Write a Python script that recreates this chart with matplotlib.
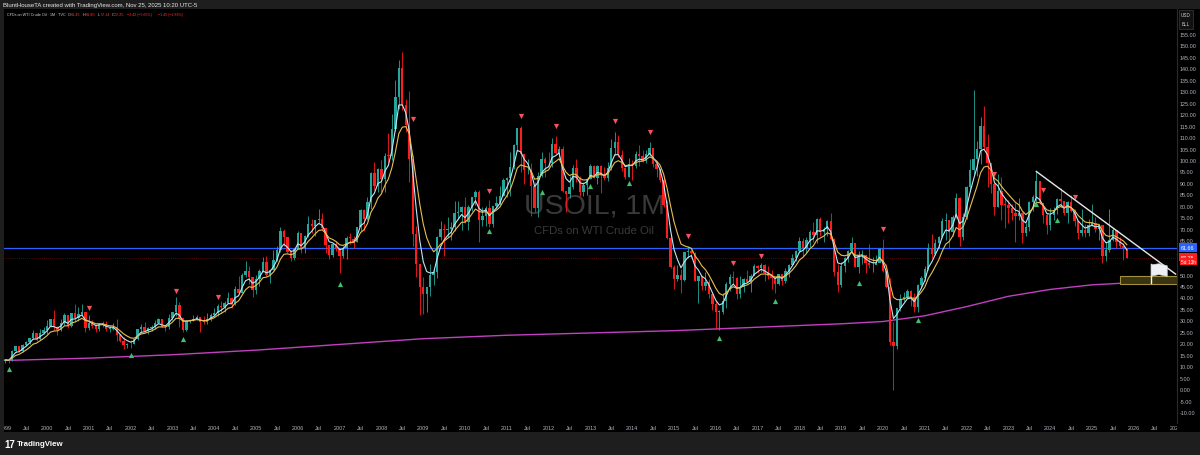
import numpy as np
import pandas as pd
import matplotlib
matplotlib.use('Agg')
import matplotlib.pyplot as plt
from matplotlib.patches import Rectangle, Polygon

plt.rcParams['font.family'] = ['Liberation Sans', 'DejaVu Sans']

# monthly WTI CFD candles, Jan 1999 .. Nov 2025 (one row per year)
first_open = 12.05
closes = [
    12.75, 12.27, 16.76, 18.66, 16.84, 19.29, 20.53, 22.10, 24.51, 21.75, 24.59, 25.60,  # 1999
    27.64, 30.43, 26.90, 25.74, 29.01, 32.50, 27.43, 33.12, 30.84, 32.70, 33.82, 26.80,  # 2000
    28.66, 27.39, 26.29, 28.46, 28.37, 26.25, 26.35, 27.20, 23.43, 21.18, 19.44, 19.84,  # 2001
    19.48, 21.74, 26.31, 27.29, 25.31, 26.86, 27.02, 28.98, 30.45, 27.22, 26.89, 31.20,  # 2002
    33.51, 36.60, 31.04, 25.80, 29.56, 30.19, 30.54, 31.57, 29.20, 29.11, 30.41, 32.52,  # 2003
    33.05, 36.16, 35.76, 37.38, 39.88, 37.05, 43.80, 42.12, 49.64, 51.76, 49.13, 43.45,  # 2004
    48.20, 51.75, 55.40, 49.72, 51.97, 56.50, 60.57, 68.94, 66.24, 59.76, 57.32, 61.04,  # 2005
    67.92, 61.41, 66.63, 71.88, 71.29, 73.93, 74.40, 70.26, 62.91, 58.73, 63.13, 61.05,  # 2006
    58.14, 61.79, 65.87, 65.71, 64.01, 70.68, 78.21, 74.04, 81.66, 94.53, 88.71, 95.98,  # 2007
    91.75, 101.84, 101.58, 113.46, 127.35, 140.00, 124.08, 115.46, 100.64, 67.81, 54.43, 44.60,  # 2008
    41.68, 44.76, 49.66, 51.12, 66.31, 69.89, 69.45, 69.96, 70.61, 77.00, 77.28, 79.36,  # 2009
    72.89, 79.66, 83.76, 86.15, 73.97, 75.63, 78.95, 71.92, 79.97, 81.43, 84.11, 91.38,  # 2010
    92.19, 96.97, 106.72, 113.93, 102.70, 95.42, 95.70, 88.81, 79.20, 93.19, 100.36, 98.83,  # 2011
    98.48, 107.07, 103.02, 104.87, 86.53, 84.96, 88.06, 96.47, 92.19, 86.24, 88.91, 91.82,  # 2012
    97.49, 92.05, 97.23, 93.46, 91.97, 96.56, 105.03, 107.65, 102.33, 96.38, 92.72, 98.42,  # 2013
    97.49, 102.59, 101.58, 99.74, 102.71, 105.37, 98.17, 95.96, 91.16, 80.54, 66.15, 53.27,  # 2014
    48.24, 49.76, 47.60, 59.63, 60.30, 59.47, 47.12, 49.20, 45.09, 46.59, 41.65, 37.04,  # 2015
    33.62, 33.75, 38.34, 45.92, 49.10, 48.33, 41.60, 44.70, 48.24, 46.86, 49.44, 53.72,  # 2016
    52.81, 54.01, 50.60, 49.33, 48.32, 46.04, 50.17, 47.23, 51.67, 54.38, 57.40, 60.42,  # 2017
    64.73, 61.64, 64.94, 68.57, 67.04, 74.15, 68.76, 69.80, 73.25, 65.31, 50.93, 45.41,  # 2018
    53.79, 57.22, 60.14, 63.91, 53.50, 58.47, 58.58, 55.10, 54.07, 54.18, 55.17, 61.06,  # 2019
    51.56, 44.76, 20.48, 18.84, 35.49, 39.27, 40.27, 42.61, 40.22, 35.79, 45.34, 48.52,  # 2020
    52.20, 61.50, 59.16, 63.58, 66.32, 73.47, 73.95, 68.50, 75.03, 83.57, 66.18, 75.21,  # 2021
    88.15, 95.72, 100.28, 104.69, 114.67, 105.76, 98.62, 89.55, 79.49, 86.53, 80.55, 80.26,  # 2022
    78.87, 77.05, 75.67, 76.78, 68.09, 70.64, 81.80, 83.63, 90.79, 81.02, 75.96, 71.65,  # 2023
    75.85, 78.26, 83.17, 81.93, 76.99, 81.54, 77.91, 73.55, 68.17, 69.26, 68.00, 71.72,  # 2024
    72.53, 69.76, 71.48, 58.21, 60.79, 65.11, 69.26, 64.01, 62.37, 61.46, 57.25,  # 2025
]
highs = [
    13.20, 13.05, 16.90, 18.80, 18.70, 19.55, 20.80, 22.50, 25.60, 24.60, 26.30, 27.20,
    30.00, 30.50, 34.40, 27.60, 30.40, 33.00, 32.40, 33.40, 37.20, 35.70, 37.00, 33.80,
    32.20, 30.00, 28.00, 29.00, 29.90, 29.60, 27.70, 28.70, 30.50, 23.00, 22.90, 20.00,
    21.40, 21.80, 26.40, 28.50, 29.30, 27.00, 28.10, 30.00, 31.10, 30.60, 28.00, 32.70,
    33.70, 39.99, 38.00, 31.00, 29.70, 30.80, 32.30, 32.50, 31.60, 31.80, 33.30, 33.00,
    35.20, 37.00, 38.40, 38.30, 42.30, 40.40, 44.80, 49.40, 50.50, 55.70, 53.60, 46.00,
    49.70, 52.20, 57.60, 58.30, 52.60, 60.90, 62.30, 70.80, 70.00, 66.20, 60.80, 61.40,
    69.20, 68.00, 67.40, 75.40, 74.20, 74.00, 78.40, 77.00, 70.20, 62.70, 62.50, 64.00,
    61.00, 62.30, 66.70, 68.10, 66.90, 70.60, 78.80, 78.70, 83.90, 94.70, 99.30, 96.70,
    100.10, 103.00, 111.80, 119.90, 135.10, 143.70, 147.30, 126.50, 130.00, 102.10, 71.00, 50.00,
    49.00, 44.50, 54.70, 52.70, 66.70, 73.40, 72.00, 75.00, 72.80, 82.00, 82.00, 80.00,
    83.90, 80.50, 83.90, 87.10, 86.80, 79.40, 79.80, 82.50, 80.10, 84.40, 88.60, 92.10,
    92.60, 103.40, 107.00, 113.90, 114.80, 102.40, 100.60, 98.70, 90.50, 94.60, 103.40, 101.50,
    103.70, 109.80, 110.50, 106.30, 106.10, 86.10, 92.90, 97.80, 100.40, 93.00, 90.30, 91.90,
    98.20, 97.80, 97.90, 97.90, 97.00, 99.10, 109.30, 112.20, 110.70, 104.20, 95.30, 100.80,
    100.00, 104.00, 106.50, 104.50, 104.20, 107.70, 105.40, 98.50, 95.90, 92.50, 82.50, 67.00,
    54.20, 54.20, 52.50, 59.90, 62.60, 61.70, 59.70, 49.30, 48.40, 50.90, 48.20, 42.10,
    38.40, 34.70, 41.90, 46.80, 50.20, 51.60, 49.00, 49.30, 48.40, 51.90, 50.20, 54.40,
    54.30, 54.90, 54.50, 53.70, 52.00, 48.90, 50.40, 50.20, 52.80, 54.80, 59.00, 60.50,
    66.60, 66.00, 66.60, 69.50, 72.90, 74.50, 75.30, 70.70, 74.00, 76.90, 66.10, 54.50,
    55.40, 57.80, 60.70, 66.50, 63.80, 60.10, 60.90, 57.50, 63.40, 57.50, 58.70, 61.80,
    65.60, 54.70, 48.70, 29.10, 35.60, 41.60, 42.50, 43.80, 43.40, 41.90, 45.90, 49.30,
    53.90, 63.80, 67.90, 65.50, 67.00, 74.50, 76.90, 72.00, 75.80, 85.40, 84.00, 77.00,
    88.80, 100.50, 130.50, 108.40, 118.70, 123.70, 111.50, 97.60, 90.40, 93.70, 92.60, 83.30,
    82.70, 80.60, 81.10, 83.50, 77.10, 72.70, 82.00, 84.90, 95.00, 90.30, 79.70, 76.80,
    79.20, 79.60, 83.50, 87.60, 82.20, 82.00, 84.50, 78.80, 71.50, 78.40, 72.00, 74.30,
    80.80, 74.90, 71.90, 71.80, 64.20, 78.40, 70.50, 69.40, 66.40, 63.60, 61.80,
]
lows = [
    11.30, 11.55, 12.10, 16.40, 16.00, 16.20, 18.90, 19.80, 21.90, 21.00, 21.30, 24.10,
    23.90, 26.90, 25.60, 23.70, 25.30, 28.00, 26.70, 27.30, 29.30, 29.80, 32.20, 25.10,
    25.90, 26.60, 25.00, 25.50, 27.30, 25.50, 25.00, 26.00, 21.10, 20.60, 17.50, 17.80,
    17.90, 19.50, 21.30, 24.50, 24.80, 24.10, 25.30, 26.30, 28.70, 26.90, 25.20, 26.20,
    30.00, 32.10, 27.00, 25.00, 25.30, 29.00, 29.80, 30.10, 25.10, 28.40, 28.60, 29.80,
    32.20, 32.00, 33.10, 33.80, 37.60, 35.40, 36.80, 41.80, 42.00, 48.80, 46.00, 40.20,
    41.30, 44.90, 51.20, 49.20, 46.20, 51.80, 55.80, 60.00, 62.50, 59.30, 55.80, 56.30,
    61.00, 59.30, 59.60, 66.20, 68.00, 67.00, 72.40, 69.40, 59.50, 56.60, 57.60, 60.20,
    50.50, 57.10, 56.70, 63.20, 61.40, 64.30, 69.20, 69.00, 73.90, 78.80, 87.00, 86.10,
    86.10, 86.10, 98.70, 100.00, 112.60, 122.20, 121.90, 112.20, 90.50, 62.30, 49.00, 32.40,
    32.70, 33.60, 40.50, 45.40, 48.40, 65.00, 58.30, 66.30, 65.00, 68.80, 74.20, 69.50,
    72.40, 69.50, 77.80, 80.50, 64.20, 71.00, 71.20, 70.80, 70.80, 79.00, 80.30, 84.30,
    84.00, 84.10, 96.00, 104.00, 94.60, 89.60, 93.90, 75.70, 77.10, 74.90, 92.60, 92.50,
    97.00, 96.80, 102.50, 101.20, 86.00, 77.30, 83.40, 87.40, 90.50, 84.10, 84.10, 84.80,
    91.50, 92.00, 89.30, 85.60, 91.40, 91.00, 95.70, 102.20, 101.50, 95.20, 91.80, 92.60,
    91.20, 96.50, 97.40, 99.20, 98.50, 101.60, 97.00, 92.50, 90.40, 79.40, 65.70, 52.70,
    43.60, 47.10, 42.00, 47.00, 57.00, 57.00, 47.00, 37.70, 43.20, 43.20, 39.90, 34.50,
    26.10, 26.00, 32.70, 35.20, 43.00, 46.00, 39.20, 39.90, 42.50, 46.60, 42.20, 49.90,
    50.70, 51.20, 47.00, 48.20, 43.80, 42.00, 45.40, 45.60, 46.50, 49.10, 54.80, 56.10,
    59.90, 58.10, 59.60, 62.10, 64.20, 63.60, 67.00, 64.40, 66.80, 65.00, 49.40, 42.40,
    44.40, 51.20, 55.30, 60.00, 53.10, 50.60, 54.70, 50.50, 52.80, 50.90, 54.40, 55.40,
    51.30, 44.00, 19.30, -0.50, 17.60, 34.00, 38.40, 39.90, 36.10, 33.60, 33.60, 44.10,
    47.20, 51.90, 57.30, 58.40, 61.50, 66.00, 65.20, 61.80, 67.00, 74.50, 62.40, 65.00,
    74.30, 86.50, 93.50, 92.90, 98.30, 104.60, 88.30, 85.70, 76.20, 79.40, 73.60, 70.20,
    72.70, 73.80, 64.30, 74.00, 63.60, 66.80, 69.00, 77.60, 81.30, 80.60, 72.40, 67.70,
    69.30, 73.80, 76.60, 79.50, 76.00, 72.50, 77.40, 71.20, 65.30, 66.90, 66.50, 66.90,
    71.00, 68.40, 65.20, 55.10, 56.00, 60.00, 64.70, 61.50, 61.40, 56.30, 57.14,
]

# long slow average (magenta), read at yearly points
slow_ma_dates = ['1999-01', '2001-01', '2003-01', '2005-01', '2007-01', '2009-01', '2011-01',
                 '2013-01', '2015-01', '2017-01', '2019-01', '2020-01', '2021-01', '2022-01',
                 '2023-01', '2024-01', '2025-01', '2027-01']
slow_ma_vals = [12.5, 13.5, 15.0, 17.0, 19.5, 22.0, 23.5, 24.5, 25.5, 27.0, 28.5, 29.5, 32.0,
                36.0, 40.5, 43.5, 45.5, 47.5]

# signal markers: month and price where the shape sits
buy_dates = ['1999-02', '2002-01', '2003-04', '2007-01', '2010-08', '2011-11', '2013-01',
             '2013-12', '2016-02', '2017-06', '2019-06', '2020-11', '2023-09', '2024-03']
buy_prices = [8.7, 15.0, 21.8, 45.8, 69.0, 86.0, 88.6, 90.0, 22.5, 38.5, 46.5, 30.0, 80.8, 73.8]
sell_dates = ['2001-01', '2003-02', '2004-02', '2008-10', '2010-08', '2011-05', '2012-03',
              '2013-08', '2014-06', '2015-05', '2016-06', '2017-02', '2020-01', '2022-09',
              '2023-11', '2024-08']
sell_prices = [35.5, 43.0, 40.0, 118.0, 86.5, 119.0, 115.0, 117.0, 112.0, 67.0, 55.0, 58.0,
               70.0, 94.0, 87.0, 84.0]

trend_dates = ['2023-09', '2027-01']
trend_prices = [95.0, 50.2]
zone_start = '2025-09'
zone_prices = (45.9, 49.3)
flag_date = '2026-06'
hline_price = 61.66
last_price = 57.25

price_ticks = [p for p in range(-10, 160, 5) if p not in (55, 60)]

W, H = 1200, 456
BG = '#000000'
PANEL = '#1e1e1e'
UP = '#26a69a'
DOWN = '#ff1c1c'
TXT = '#b2b5be'


def midx(s):
    y, m = s.split('-')
    return (int(y) - 1999) * 12 + int(m) - 1


def frac(x0, y0, x1, y1):
    return [x0 / W, 1 - y1 / H, (x1 - x0) / W, (y1 - y0) / H]


closes = np.array(closes)
highs = np.array(highs)
lows = np.array(lows)
opens = np.concatenate([[first_open], closes[:-1]])
idx = np.arange(len(closes))

fig = plt.figure(figsize=(12, 4.56), dpi=100, facecolor=PANEL)

ax = fig.add_axes(frac(4, 10, 1177, 424))
ax.set_facecolor(BG)
ax.set_xlim(-0.35, 336.4)
ax.set_ylim(-14.8, 165.9)
for s in ax.spines.values():
    s.set_visible(False)
ax.set_xticks([])

# watermark
ax.text(0.503, 0.525, 'USOIL, 1M', transform=ax.transAxes, ha='center', va='center',
        fontsize=20.5, color='#3a3a3a', zorder=0)
ax.text(0.503, 0.465, 'CFDs on WTI Crude Oil', transform=ax.transAxes, ha='center',
        va='center', fontsize=8.2, color='#3a3a3a', zorder=0)

# moving averages
cs = pd.Series(closes)
fast = cs.ewm(span=4, adjust=False).mean()
slow = cs.ewm(span=8, adjust=False).mean()
ax.plot(idx, fast, color='#bfe6f5', lw=0.8, zorder=4)
ax.plot(idx, slow, color='#e8c050', lw=0.8, zorder=4)
ax.plot([midx(d) for d in slow_ma_dates], slow_ma_vals, color='#c040c0', lw=1.0, zorder=2)

# candles
up = closes >= opens
cols = np.where(up, UP, DOWN)
ax.vlines(idx, lows, highs, colors=cols, lw=0.6, zorder=3)
body = np.where(np.abs(closes - opens) < 0.3, 0.3, closes - opens)
ax.bar(idx, body, bottom=opens, width=0.68, color=cols, lw=0, zorder=3)

# signals
ax.scatter([midx(d) for d in buy_dates], buy_prices, marker='^', s=14, color='#3fbf6f',
           lw=0, zorder=5)
ax.scatter([midx(d) for d in sell_dates], sell_prices, marker='v', s=14, color='#f7525f',
           lw=0, zorder=5)

# levels and drawings
ax.axhline(hline_price, color='#2962ff', lw=0.9, zorder=2)
ax.axhline(last_price, color='#ff1c1c', lw=0.5, ls=(0, (1, 2)), alpha=0.6, zorder=2)
ax.plot([midx(d) for d in trend_dates], trend_prices, color='#e8e8e8', lw=1.0, zorder=6)
zx = midx(zone_start)
ax.add_patch(Rectangle((zx, zone_prices[0]), 340 - zx, zone_prices[1] - zone_prices[0],
                       facecolor='#3a3510', edgecolor='#a09040', lw=0.8, zorder=5))
fx = midx(flag_date)
ax.plot([fx, fx], [zone_prices[0] + 0.3, 54.5], color='#f0f0f0', lw=1.0, zorder=7)
ax.add_patch(Polygon([(fx, 54.2), (fx + 2.2, 54.7), (fx + 4.6, 53.8), (fx + 4.6, 49.2),
                      (fx + 2.2, 50.0), (fx, 49.3)], closed=True, facecolor='#eef0f3',
                     edgecolor='#cfd3da', lw=0.5, zorder=7))

# price scale on the right
ax.yaxis.tick_right()
ax.set_yticks(price_ticks)
ax.set_yticklabels(['%.2f' % p for p in price_ticks])
ax.tick_params(axis='y', length=0, pad=2.2, labelsize=3.9, labelcolor=TXT)

ax.text(1.0035, hline_price, '%.2f' % hline_price, transform=ax.get_yaxis_transform(),
        ha='left', va='center', fontsize=3.9, color='white', clip_on=False, zorder=10,
        bbox=dict(boxstyle='square,pad=0.35', fc='#2962ff', ec='none'))
ax.text(1.0035, last_price + 0.4, '%.2f' % last_price, transform=ax.get_yaxis_transform(),
        ha='left', va='center', fontsize=3.9, color='white', clip_on=False, zorder=10,
        bbox=dict(boxstyle='square,pad=0.35', fc='#ff1c1c', ec='none'))
ax.text(1.0035, last_price - 1.6, '5d 13h', transform=ax.get_yaxis_transform(),
        ha='left', va='center', fontsize=3.4, color='white', clip_on=False, zorder=10,
        bbox=dict(boxstyle='square,pad=0.25', fc='#ff1c1c', ec='none'))

# price scale frame and currency boxes
fig.add_artist(plt.Line2D([1177 / W, 1177 / W], [1 - 10 / H, 1 - 424 / H],
                          color='#2a2a2a', lw=0.8))
fig.add_artist(Rectangle((1177 / W, 1 - 424 / H), 23 / W, 414 / H, facecolor=BG,
                         edgecolor='none', zorder=-1))
fig.add_artist(Rectangle((1179 / W, 1 - 30 / H), 14 / W, 19 / H, facecolor='#111111',
                         edgecolor='#3a3a3a', lw=0.5))
fig.text(1186 / W, 1 - 15.5 / H, 'USD', ha='center', va='center', fontsize=3.3, color='#d0d0d0')
fig.text(1186 / W, 1 - 25 / H, 'BLL', ha='center', va='center', fontsize=3.3, color='#d0d0d0')

# time scale
axt = fig.add_axes(frac(4, 424, 1177, 433))
axt.set_facecolor(BG)
axt.set_xlim(ax.get_xlim())
axt.set_ylim(0, 1)
axt.axis('off')
axt.add_patch(Rectangle((-10, 0), 400, 1, facecolor=BG, edgecolor='none'))
for yr in range(1999, 2028):
    for m, lab in ((1, str(yr)), (7, 'Jul')):
        axt.text(midx('%d-%02d' % (yr, m)), 0.45, lab, ha='center', va='center',
                 fontsize=3.9, color=TXT, clip_on=True)
fig.add_artist(Rectangle((1177 / W, 1 - 433 / H), 23 / W, 9 / H, facecolor=BG,
                         edgecolor='none'))

# header lines
fig.text(3 / W, 1 - 5 / H, 'BluntHouseTA created with TradingView.com, Nov 25, 2025 10:20 UTC-5',
         ha='left', va='center', fontsize=4.35, color='#e8e8e8')
fig.text(7 / W, 1 - 15 / H, 'CFDs on WTI Crude Oil · 1M · TVC', ha='left', va='center',
         fontsize=2.7, color='#d0d0d0')
ohlc = [('O', '61.46', 68), ('H', '61.80', 83), ('L', '57.14', 98), ('C', '57.25', 112)]
for k, v, xp in ohlc:
    fig.text(xp / W, 1 - 15 / H, k, ha='left', va='center', fontsize=2.7, color='#d0d0d0')
    fig.text((xp + 2.5) / W, 1 - 15 / H, v, ha='left', va='center', fontsize=2.7,
             color='#ff3030')
fig.text(127 / W, 1 - 15 / H, '−3.42 (−5.65%)', ha='left', va='center', fontsize=2.6,
         color='#ff3030')
fig.text(158 / W, 1 - 15 / H, '−1.45 (−2.88%)', ha='left', va='center', fontsize=2.6,
         color='#ff3030')

# footer logo
fig.text(4 / W, 1 - 445 / H, '17', ha='left', va='center', fontsize=7.0, color='white',
         fontweight='bold')
fig.text(17 / W, 1 - 445 / H, 'TradingView', ha='left', va='center', fontsize=5.7,
         color='white', fontweight='bold')

fig.savefig('out.png', dpi=100, facecolor=PANEL)
